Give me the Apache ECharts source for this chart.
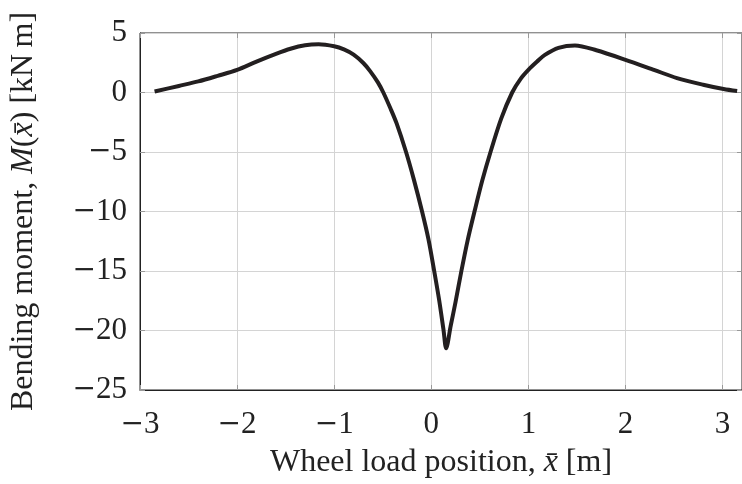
<!DOCTYPE html>
<html><head><meta charset="utf-8">
<script src="https://cdn.jsdelivr.net/npm/echarts@6/dist/echarts.min.js"></script>
<style>html,body{margin:0;padding:0;background:#fff;}#c{width:742px;height:484px;}</style>
</head><body><div id="c"></div>
<script>
const xValues = [-2.85,-2.6,-2.4,-2.2,-2.0,-1.8,-1.6,-1.45,-1.3,-1.16,-1.0,-0.9,-0.8,-0.7,-0.63,-0.55,-0.494,-0.42,-0.357,-0.26,-0.18,-0.095,-0.03,0.03,0.08,0.125,0.153,0.2,0.25,0.31,0.375,0.445,0.525,0.61,0.72,0.833,0.92,1.0,1.09,1.17,1.31,1.48,1.7,2.0,2.3,2.53,2.8,3.01,3.15];
const momentValues = [0.08,0.55,0.93,1.4,1.9,2.6,3.25,3.68,3.97,4.05,3.88,3.62,3.18,2.48,1.8,0.85,0.0,-1.35,-2.6,-5.0,-7.3,-10.0,-12.3,-15.0,-17.4,-19.9,-21.5,-19.6,-17.6,-15.0,-12.4,-10.0,-7.4,-5.0,-2.2,0.0,1.15,1.9,2.6,3.16,3.75,3.95,3.55,2.75,1.88,1.21,0.65,0.29,0.12];
const xTicks = [-3,-2,-1,0,1,2,3];
const yTicks = [-25,-20,-15,-10,-5,0,5];

const fmt = v => {
  if (Math.abs(v - Math.round(v)) > 1e-9) return '';
  const r = Math.round(v);
  return r < 0 ? '{m|\u2212}{d|' + (-r) + '}' : '{d|' + r + '}';
};
const serif = 'Liberation Serif';
const FS = 32;
const richTicks = {m:{fontFamily:'DejaVu Serif', fontSize:28, color:'#222'}, d:{fontFamily:serif, fontSize:31, color:'#222'}};
const tickStyle = {show:true, inside:true, length:5, lineStyle:{color:'#999', width:1}};
const chart = echarts.init(document.getElementById('c'));
chart.setOption({
  animation:false,
  grid:{left:137.7, top:33, width:607.6, height:359, show:true, borderColor:'#222', borderWidth:1, containLabel:false},
  xAxis:[{
    type:'value', min:xTicks[0], max:3.2, interval:1, position:'bottom',
    name:'Wheel load position, {i|x\u0304} [m]', nameLocation:'middle', nameGap:57,
    nameTextStyle:{fontFamily:serif, fontSize:FS, color:'#222', rich:{i:{fontFamily:serif, fontStyle:'italic', fontSize:FS, color:'#222'}}},
    axisLine:{show:true, onZero:false, lineStyle:{color:'#222', width:1}},
    axisTick:tickStyle,
    axisLabel:{formatter:fmt, rich:richTicks, fontFamily:serif, fontSize:31, color:'#222', margin:19, showMaxLabel:false},
    splitLine:{show:true, lineStyle:{color:'#d4d4d4', width:1}}
  },{
    type:'value', min:xTicks[0], max:3.2, interval:1, position:'top',
    axisLine:{show:false, onZero:false}, axisTick:tickStyle, axisLabel:{show:false}, splitLine:{show:false}
  }],
  yAxis:[{
    type:'value', min:yTicks[0], max:yTicks[yTicks.length-1], interval:5, position:'left',
    name:'Bending moment, {i|M}({i|x\u0304}) [kN\u2009m]', nameLocation:'middle', nameGap:100, nameRotate:90,
    nameTextStyle:{fontFamily:serif, fontSize:FS, color:'#222', rich:{i:{fontFamily:serif, fontStyle:'italic', fontSize:FS, color:'#222'}}},
    axisLine:{show:true, onZero:false, lineStyle:{color:'#222', width:1}},
    axisTick:tickStyle,
    axisLabel:{formatter:fmt, rich:richTicks, fontFamily:serif, fontSize:31, color:'#222', margin:13},
    splitLine:{show:true, lineStyle:{color:'#d4d4d4', width:1}}
  },{
    type:'value', min:yTicks[0], max:yTicks[yTicks.length-1], interval:5, position:'right',
    axisLine:{show:false, onZero:false}, axisTick:tickStyle, axisLabel:{show:false}, splitLine:{show:false}
  }],
  series:[{
    type:'line', xAxisIndex:0, yAxisIndex:0, showSymbol:false, smooth:0.3,
    data:xValues.map((x,i)=>[x, momentValues[i]]),
    lineStyle:{color:'#231f20', width:4, join:'round', cap:'butt'}
  }]
});
</script></body></html>
